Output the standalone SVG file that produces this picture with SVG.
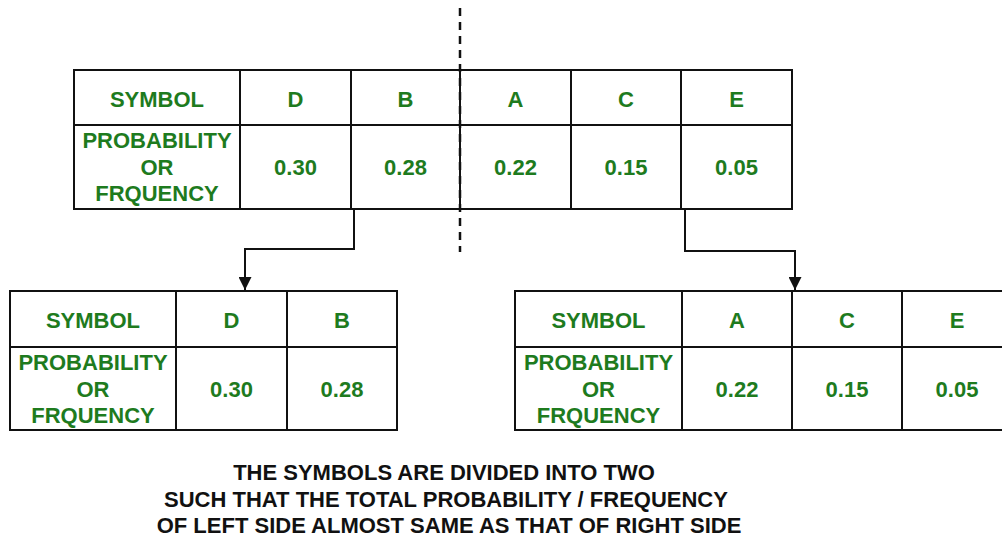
<svg xmlns="http://www.w3.org/2000/svg" width="1002" height="537" viewBox="0 0 1002 537">
<style>
.cell{fill:#fff;stroke:#111;stroke-width:2}
.ln{stroke:#111;stroke-width:2;fill:none}
.g{font-family:"Liberation Sans",Arial,sans-serif;font-weight:bold;font-size:22px;fill:#1e7b1e;text-anchor:middle}
.k{font-family:"Liberation Sans",Arial,sans-serif;font-weight:bold;font-size:22px;fill:#111;text-anchor:middle}
.conn{stroke:#111;stroke-width:2;fill:none}
</style>
<defs>
<marker id="arr" viewBox="0 0 10 10" refX="10" refY="5" markerWidth="14" markerHeight="13" markerUnits="userSpaceOnUse" orient="auto">
<path d="M0,0 L10,5 L0,10 Z" fill="#111"/>
</marker>
</defs>
<rect width="1002" height="537" fill="#fff"/>
<g id="top-table">
<rect class="cell" x="74" y="70" width="718" height="139"/>
<line class="ln" x1="74" y1="125" x2="792" y2="125"/>
<line class="ln" x1="240" y1="70" x2="240" y2="209"/>
<line class="ln" x1="351" y1="70" x2="351" y2="209"/>
<line class="ln" x1="460" y1="70" x2="460" y2="209"/>
<line class="ln" x1="571" y1="70" x2="571" y2="209"/>
<line class="ln" x1="681" y1="70" x2="681" y2="209"/>
<text class="g" x="157" y="107">SYMBOL</text>
<text class="g" x="295.5" y="107">D</text>
<text class="g" x="405.5" y="107">B</text>
<text class="g" x="515.5" y="107">A</text>
<text class="g" x="626" y="107">C</text>
<text class="g" x="736.5" y="107">E</text>
<text class="g" x="157" y="148">PROBABILITY</text>
<text class="g" x="157" y="175">OR</text>
<text class="g" x="157" y="201">FRQUENCY</text>
<text class="g" x="295.5" y="175">0.30</text>
<text class="g" x="405.5" y="175">0.28</text>
<text class="g" x="515.5" y="175">0.22</text>
<text class="g" x="626" y="175">0.15</text>
<text class="g" x="736.5" y="175">0.05</text>
</g>
<g id="divider">
<line x1="460" y1="8" x2="460" y2="252" stroke="#111" stroke-width="2.5" stroke-dasharray="8 6"/>
</g>
<g id="left-table">
<rect class="cell" x="10" y="291" width="387" height="139"/>
<line class="ln" x1="10" y1="347" x2="397" y2="347"/>
<line class="ln" x1="176" y1="291" x2="176" y2="430"/>
<line class="ln" x1="287" y1="291" x2="287" y2="430"/>
<text class="g" x="93" y="328">SYMBOL</text>
<text class="g" x="231.5" y="328">D</text>
<text class="g" x="342" y="328">B</text>
<text class="g" x="93" y="370">PROBABILITY</text>
<text class="g" x="93" y="397">OR</text>
<text class="g" x="93" y="423">FRQUENCY</text>
<text class="g" x="231.5" y="397">0.30</text>
<text class="g" x="342" y="397">0.28</text>
</g>
<g id="right-table">
<rect class="cell" x="515" y="291" width="500" height="139"/>
<line class="ln" x1="515" y1="347" x2="1015" y2="347"/>
<line class="ln" x1="682" y1="291" x2="682" y2="430"/>
<line class="ln" x1="792" y1="291" x2="792" y2="430"/>
<line class="ln" x1="902" y1="291" x2="902" y2="430"/>
<text class="g" x="598.5" y="328">SYMBOL</text>
<text class="g" x="737" y="328">A</text>
<text class="g" x="847" y="328">C</text>
<text class="g" x="957" y="328">E</text>
<text class="g" x="598.5" y="370">PROBABILITY</text>
<text class="g" x="598.5" y="397">OR</text>
<text class="g" x="598.5" y="423">FRQUENCY</text>
<text class="g" x="737" y="397">0.22</text>
<text class="g" x="847" y="397">0.15</text>
<text class="g" x="957" y="397">0.05</text>
</g>
<g id="connectors">
<path class="conn" d="M354,209 V249 H245 V290" marker-end="url(#arr)"/>
<path class="conn" d="M685,209 V251 H795 V290" marker-end="url(#arr)"/>
</g>
<g id="caption">
<text class="k" x="444" y="480">THE SYMBOLS ARE DIVIDED INTO TWO</text>
<text class="k" x="446" y="507">SUCH THAT THE TOTAL PROBABILITY / FREQUENCY</text>
<text class="k" x="449" y="533">OF LEFT SIDE ALMOST SAME AS THAT OF RIGHT SIDE</text>
</g>
</svg>
